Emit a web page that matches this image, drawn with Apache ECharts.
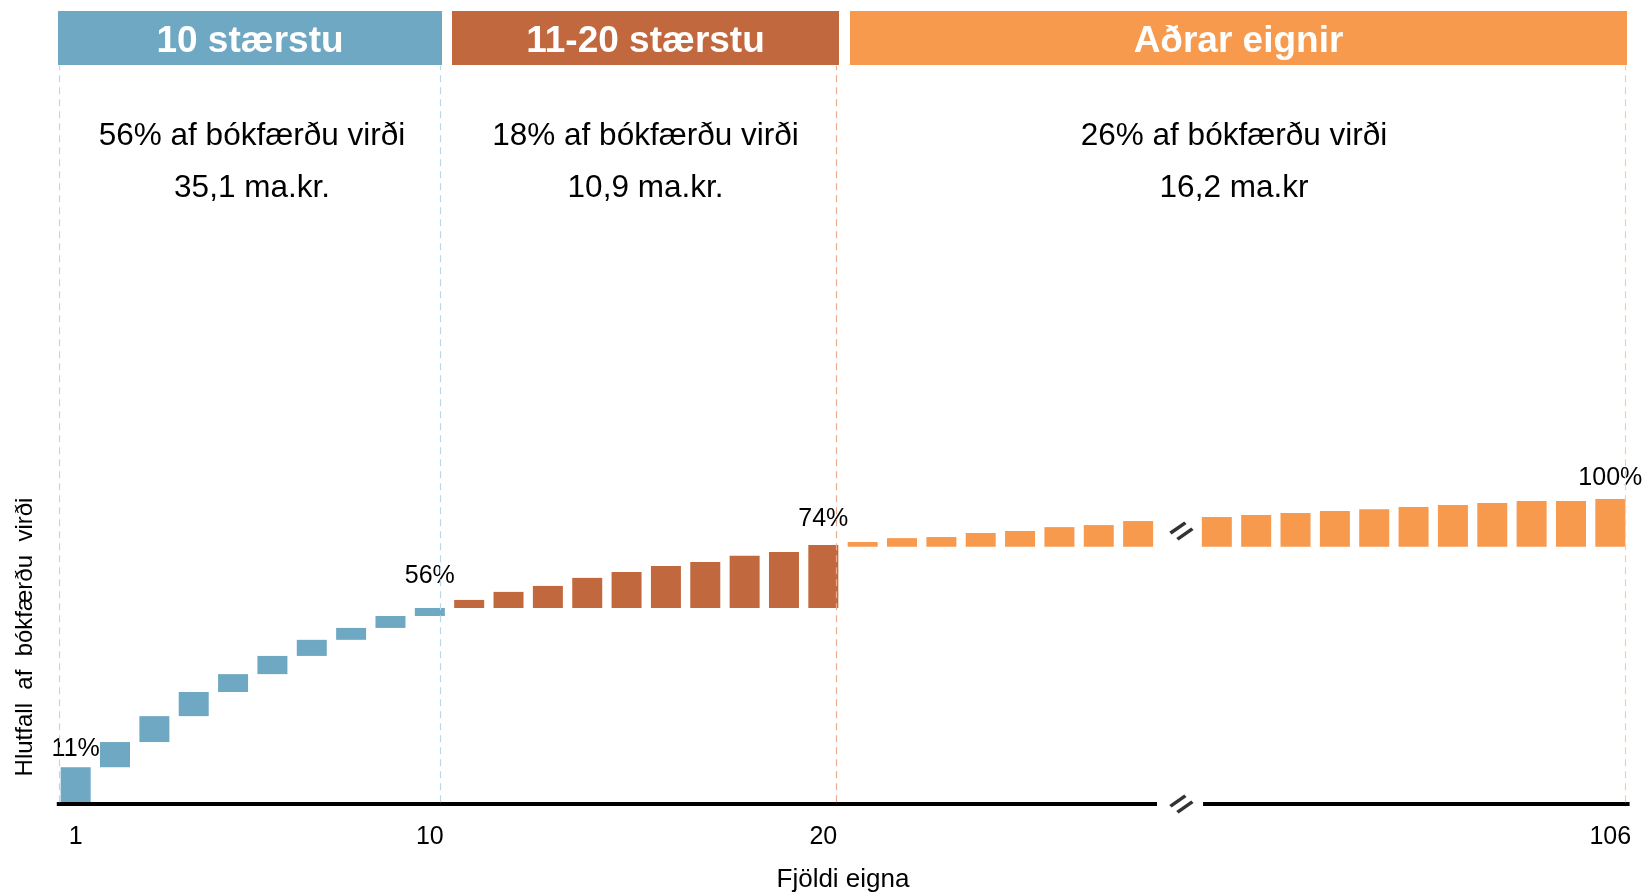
<!DOCTYPE html>
<html>
<head>
<meta charset="utf-8">
<script src="https://cdn.jsdelivr.net/npm/echarts@6/dist/echarts.min.js"></script>
<style>html,body{margin:0;padding:0;background:#fff}#chart{width:1646px;height:892px}</style>
</head>
<body>
<div id="chart"></div>
<script>
// ---------- data ----------
const categories = ['1','2','3','4','5','6','7','8','9','10',
  '11','12','13','14','15','16','17','18','19','20',
  '21','22','23','24','25','26','27','28','',
  '96','97','98','99','100','101','102','103','104','105','106'];
const tickLabels = ['1','10','20','106'];
// cumulative share of book value (%) at the top of each bar
const top10Cum  = [10.5, 17.7, 25.1, 32.0, 37.1, 42.3, 46.9, 50.3, 53.7, 56.0];
const next10Cum = [58.3, 60.6, 62.3, 64.6, 66.3, 68.0, 69.1, 70.9, 72.0, 74.0];
const otherCum  = [76.6, 78.7, 79.3, 81.5, 82.6, 84.7, 85.8, 88.0,
                   90.2, 91.3, 92.4, 93.5, 94.5, 95.6, 96.7, 97.8, 98.9, 98.9, 100.0];
const pointLabels = {'1':'11%', '10':'56%', '20':'74%', '106':'100%'};
const groupNames   = ['10 stærstu', '11-20 stærstu', 'Aðrar eignir'];
const groupShares  = ['56% af bókfærðu virði', '18% af bókfærðu virði', '26% af bókfærðu virði'];
const groupAmounts = ['35,1 ma.kr.', '10,9 ma.kr.', '16,2 ma.kr'];
const dividers = [0.57, 10.26, 20.32, 40.39];   // group boundaries on the asset axis
const breakSlot = 29;                           // axis position of the break (1-based slot)

// ---------- styles ----------
const FONT = '"Liberation Sans", Arial, sans-serif';
const colors = ['#6fa8c3', '#c1683e', '#f79a4e'];
const dividerColors = ['#b9d8e8', '#b9d8e8', '#eeaa8c', '#fbc9a3'];
const labelGap = {'1': 6, '10': 19, '20': 13, '106': 8};
const headerBoxes = [[58, 384], [452, 387], [850, 777]];

// ---------- build series arrays ----------
const n = categories.length;
const base0 = new Array(n).fill('-');
const blue = new Array(n).fill('-');
const brown = new Array(n).fill('-');
const base1 = new Array(n).fill('-');
const orange = new Array(n).fill('-');

function item(i, v) {
  const c = categories[i];
  if (pointLabels[c]) {
    return {value: v, label: {show: true, position: 'top', distance: labelGap[c],
      formatter: pointLabels[c], fontSize: 25, color: '#000', fontFamily: FONT}};
  }
  return v;
}
for (let i = 0; i < top10Cum.length; i++) {
  const prev = i === 0 ? 0 : top10Cum[i - 1];
  base0[i] = prev;
  blue[i] = item(i, +(top10Cum[i] - prev).toFixed(2));
}
const b10 = top10Cum[top10Cum.length - 1];
for (let j = 0; j < next10Cum.length; j++) {
  const i = 10 + j;
  base0[i] = b10;
  brown[i] = item(i, +(next10Cum[j] - b10).toFixed(2));
}
const b20 = next10Cum[next10Cum.length - 1];
let slot = 20;
for (let k = 0; k < otherCum.length; k++) {
  if (categories[slot] === '') slot++;
  base1[slot] = b20;
  orange[slot] = item(slot, +(otherCum[k] - b20).toFixed(2));
  slot++;
}

const barCommon = {type: 'bar', barWidth: 30, silent: true, animation: false};
const transparent = {color: 'rgba(0,0,0,0)'};

const graphic = [];
headerBoxes.forEach((b, g) => {
  const cx = b[0] + b[1] / 2;
  graphic.push({type: 'rect', shape: {x: b[0], y: 11, width: b[1], height: 54}, style: {fill: colors[g]}, silent: true});
  graphic.push({type: 'text', x: cx, y: 42, style: {text: groupNames[g], fill: '#fff', fontSize: 37, fontWeight: 'bold', fontFamily: FONT, align: 'center', verticalAlign: 'middle'}, silent: true});
});
const subCenters = [252, 645.5, 1234];
subCenters.forEach((cx, g) => {
  graphic.push({type: 'text', x: cx, y: 136, style: {text: groupShares[g], fill: '#000', fontSize: 31.5, fontFamily: FONT, align: 'center', verticalAlign: 'middle'}, silent: true});
  graphic.push({type: 'text', x: cx, y: 188, style: {text: groupAmounts[g], fill: '#000', fontSize: 31.5, fontFamily: FONT, align: 'center', verticalAlign: 'middle'}, silent: true});
});
graphic.push({type: 'text', x: 25, y: 637, rotation: Math.PI / 2,
  style: {text: 'Hlutfall  af  bókfærðu  virði', fill: '#000', fontSize: 24, fontFamily: FONT, align: 'center', verticalAlign: 'middle'}, silent: true});

const markData = [
  [{coord: [0.52, 0], lineStyle: {color: '#000', width: 4, type: 'solid'}}, {coord: [28.48, 0]}],
  [{coord: [29.65, 0], lineStyle: {color: '#000', width: 4, type: 'solid'}}, {coord: [40.49, 0]}]
];
dividers.forEach((d, k) => {
  markData.push([{coord: [d, 0.5], lineStyle: {color: dividerColors[k], width: 1.2, type: [7, 5]}}, {coord: [d, 211]}]);
});

const option = {
  animation: false,
  textStyle: {fontFamily: FONT},
  grid: {left: 56, right: 16, top: 64, bottom: 88, containLabel: false, outerBoundsMode: 'none'},
  xAxis: [{
    type: 'category', data: categories, boundaryGap: true,
    axisLine: {show: false}, axisTick: {show: false}, splitLine: {show: false},
    axisLabel: {interval: 0, margin: 21, fontSize: 25, color: '#000', fontFamily: FONT,
      formatter: v => tickLabels.indexOf(v) >= 0 ? v : ''},
    name: 'Fjöldi eigna', nameLocation: 'middle', nameGap: 63,
    nameTextStyle: {fontSize: 26, color: '#000', fontFamily: FONT}
  }, {
    type: 'value', min: 0.5, max: 40.5, show: false
  }],
  yAxis: [
    {type: 'value', min: 0, max: 211.4, show: false},
    {type: 'value', min: -66.2, max: 337.1, show: false}
  ],
  graphic: graphic,
  series: [
    Object.assign({}, barCommon, {name: 'grunnur', stack: 'a', data: base0, itemStyle: transparent}),
    Object.assign({}, barCommon, {name: '10 stærstu', stack: 'a', data: blue, itemStyle: {color: colors[0]}}),
    Object.assign({}, barCommon, {name: '11-20 stærstu', stack: 'a', data: brown, itemStyle: {color: colors[1]}}),
    Object.assign({}, barCommon, {name: 'grunnur2', stack: 'b', yAxisIndex: 1, data: base1, itemStyle: transparent}),
    Object.assign({}, barCommon, {name: 'Aðrar eignir', stack: 'b', yAxisIndex: 1, data: orange, itemStyle: {color: colors[2]}, barGap: '-100%'}),
    {
      type: 'scatter', name: 'rof', xAxisIndex: 1, yAxisIndex: 0, silent: true, animation: false,
      data: [[breakSlot + 0.1, 0], [breakSlot + 0.1, 78]],
      symbol: 'path://M0,12 L15,0 M7,19 L22,7', symbolSize: [22, 19], symbolKeepAspect: true,
      itemStyle: {color: 'none', borderColor: '#000', borderWidth: 3.5},
      z: 5,
      markLine: {silent: true, symbol: 'none', animation: false, label: {show: false}, emphasis: {disabled: true}, data: markData}
    }
  ]
};
const chart = echarts.init(document.getElementById('chart'));
chart.setOption(option);
</script>
</body>
</html>
